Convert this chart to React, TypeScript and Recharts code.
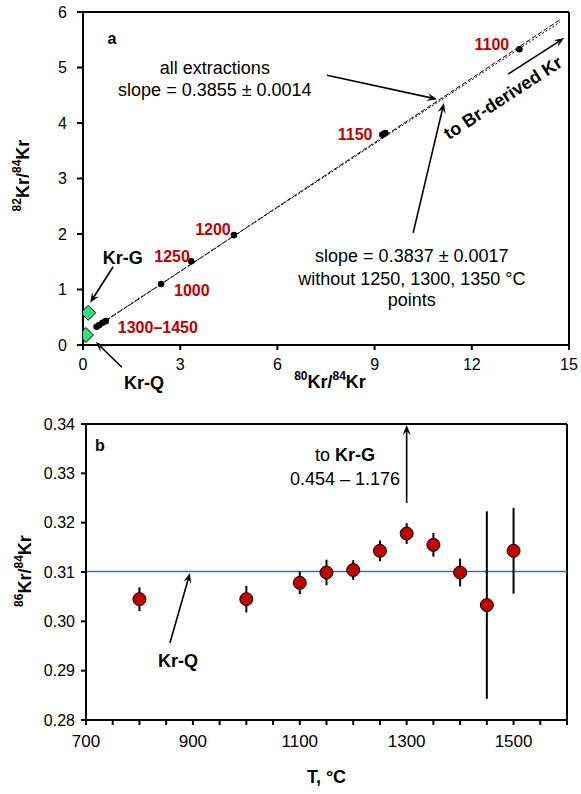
import React from 'react';
import {
  ScatterChart, Scatter, XAxis, YAxis, ReferenceLine, ReferenceDot, ErrorBar,
} from 'recharts';

// ---------- Panel a data ----------
const topXTicks = [0, 3, 6, 9, 12, 15];
const topYTicks = [0, 1, 2, 3, 4, 5, 6];
const stepPoints = [
  { x: 13.47, y: 5.33 }, // 1100
  { x: 9.24, y: 3.79 }, { x: 9.33, y: 3.82 }, // 1150
  { x: 4.66, y: 1.98 }, // 1200
  { x: 3.34, y: 1.51 }, // 1250
  { x: 2.41, y: 1.10 }, // 1000
  { x: 0.42, y: 0.33 }, { x: 0.5, y: 0.36 }, { x: 0.6, y: 0.4 }, { x: 0.7, y: 0.43 }, // 1300-1450
];
const krEndmembers = [
  { x: 0.16, y: 0.58 }, // Kr-G
  { x: 0.09, y: 0.18 }, // Kr-Q
];
const fitAll = [{ x: 0.35, y: 0.3 }, { x: 14.72, y: 5.86 }];
const fitSubset = [{ x: 0.35, y: 0.31 }, { x: 14.72, y: 5.82 }];
const stepLabels = [
  { t: '1100', x: 12.62, y: 5.41 },
  { t: '1150', x: 8.4, y: 3.8 },
  { t: '1200', x: 4.01, y: 2.09 },
  { t: '1250', x: 2.75, y: 1.59 },
  { t: '1000', x: 3.36, y: 0.99 },
  { t: '1300–1450', x: 2.31, y: 0.31 },
];
const topTexts = [
  { t: 'all extractions', x: 4.07, y: 4.99, bold: false },
  { t: 'slope = 0.3855 ± 0.0014', x: 4.07, y: 4.59, bold: false },
  { t: 'slope = 0.3837 ± 0.0017', x: 10.15, y: 1.6, bold: false },
  { t: 'without 1250, 1300, 1350 °C', x: 10.15, y: 1.19, bold: false },
  { t: 'points', x: 10.15, y: 0.81, bold: false },
  { t: 'Kr-G', x: 1.23, y: 1.57, bold: true },
  { t: 'Kr-Q', x: 1.88, y: -0.68, bold: true },
];
const topArrows = [
  { x1: 7.53, y1: 4.86, x2: 10.93, y2: 4.43 },
  { x1: 10.19, y1: 2.02, x2: 11.14, y2: 4.36 },
  { x1: 13.12, y1: 4.88, x2: 14.85, y2: 5.53 },
  { x1: 0.93, y1: 1.41, x2: 0.22, y2: 0.76 },
  { x1: 1.2, y1: -0.4, x2: 0.4, y2: 0.054 },
];

// ---------- Panel b data ----------
const temps = [800, 1000, 1100, 1150, 1200, 1250, 1300, 1350, 1400, 1450, 1500];
const ratio86 = [0.3045, 0.3045, 0.3078, 0.3099, 0.3104, 0.3143, 0.3178, 0.3155, 0.3099, 0.3033, 0.3143];
const err86 = [0.0024, 0.0027, 0.0023, 0.0026, 0.002, 0.0021, 0.0021, 0.0024, 0.0028, 0.019, 0.0087];
const krQ86 = 0.3101;
const botXTicks = [700, 750, 800, 850, 900, 950, 1000, 1050, 1100, 1150, 1200, 1250, 1300, 1350, 1400, 1450, 1500, 1550, 1600];
const botYTicks = [0.28, 0.29, 0.3, 0.31, 0.32, 0.33, 0.34];
const botArrows = [
  { x1: 1300, y1: 0.324, x2: 1300, y2: 0.3398 },
  { x1: 857, y1: 0.2956, x2: 894.6, y2: 0.3098 },
];

const bottomData = temps.map((t, i) => ({ x: t, y: ratio86[i], err: err86[i] }));

const FONT = '"Liberation Sans", Arial, sans-serif';
const RED = '#C00000';

const arrowShape = (p: any) => {
  const { x1, y1, x2, y2 } = p;
  const a = Math.atan2(y2 - y1, x2 - x1);
  const L = 11;
  const phi = 0.38;
  const lx = x2 - L * Math.cos(a - phi);
  const ly = y2 - L * Math.sin(a - phi);
  const rx = x2 - L * Math.cos(a + phi);
  const ry = y2 - L * Math.sin(a + phi);
  const nx = x2 - L * 0.55 * Math.cos(a);
  const ny = y2 - L * 0.55 * Math.sin(a);
  return (
    <g>
      <line x1={x1} y1={y1} x2={nx} y2={ny} stroke="#000" strokeWidth={1.6} />
      <polygon points={`${x2},${y2} ${lx},${ly} ${nx},${ny} ${rx},${ry}`} fill="#000" />
    </g>
  );
};

const textShape = (t: string, opts: { size: number; bold: boolean; fill: string; rotate?: number }) => (p: any) => {
  const { cx, cy } = p;
  return (
    <text
      x={cx}
      y={cy}
      textAnchor="middle"
      dominantBaseline="central"
      fontFamily={FONT}
      fontSize={opts.size}
      fontWeight={opts.bold ? 'bold' : 'normal'}
      fill={opts.fill}
      transform={opts.rotate ? `rotate(${opts.rotate} ${cx} ${cy})` : undefined}
    >
      {t}
    </text>
  );
};

const blackDot = (p: any) => <circle cx={p.cx} cy={p.cy} r={3.3} fill="#000" />;
const diamond = (p: any) => {
  const s = 7.5;
  return (
    <polygon
      points={`${p.cx},${p.cy - s} ${p.cx + s},${p.cy} ${p.cx},${p.cy + s} ${p.cx - s},${p.cy}`}
      fill="#33E07A"
      stroke="#000"
      strokeWidth={1}
    />
  );
};
const noDot = () => <g />;
const redDot = (p: any) => <circle cx={p.cx} cy={p.cy} r={6.5} fill={RED} stroke="#000" strokeWidth={1} />;

const supLabel = (sup1: string, sup2: string, cxOff: number, cyOff: number, rotate: boolean) => (props: any) => {
  const vb = props.viewBox || {};
  const cx = rotate ? vb.x + cxOff : vb.x + vb.width / 2 + cxOff;
  const cy = rotate ? vb.y + vb.height / 2 + cyOff : vb.y + cyOff;
  return (
    <text
      x={cx}
      y={cy}
      textAnchor="middle"
      dominantBaseline="central"
      fontFamily={FONT}
      fontSize={18}
      fontWeight="bold"
      fill="#000"
      transform={rotate ? `rotate(-90 ${cx} ${cy})` : undefined}
    >
      <tspan fontSize={12} dy={-6}>{sup1}</tspan>
      <tspan dy={6}>Kr/</tspan>
      <tspan fontSize={12} dy={-6}>{sup2}</tspan>
      <tspan dy={6}>Kr</tspan>
    </text>
  );
};

const tLabel = (props: any) => {
  const vb = props.viewBox || {};
  return (
    <text x={vb.x + vb.width / 2} y={vb.y + 57} textAnchor="middle" dominantBaseline="central"
      fontFamily={FONT} fontSize={18} fontWeight="bold" fill="#000">T, °C</text>
  );
};

const axisStroke = { stroke: '#000', strokeWidth: 2 };
const tickStyle = { fill: '#000', fontSize: 16, fontFamily: FONT };

export default function App() {
  return (
    <div style={{ position: 'absolute', left: 0, top: 0, width: 581, height: 794, background: '#fff', fontFamily: FONT }}>
      <div style={{ position: 'absolute', left: 0, top: 0 }}>
        <ScatterChart width={581} height={400} margin={{ top: 12, right: 12, bottom: 0, left: 0 }} style={{ fontFamily: FONT }}>
          <XAxis
            type="number" dataKey="x" domain={[0, 15]} ticks={topXTicks} allowDataOverflow
            height={55} tickSize={5} tickMargin={9} axisLine={axisStroke} tickLine={axisStroke} tick={tickStyle}
            label={supLabel('80', '84', 4, 37, false)}
          />
          <YAxis
            type="number" dataKey="y" domain={[0, 6]} ticks={topYTicks} allowDataOverflow
            width={83} tickSize={6} tickMargin={10} axisLine={axisStroke} tickLine={axisStroke} tick={tickStyle}
            label={supLabel('82', '84', 23, -3, true)}
          />
          <ReferenceLine y={6} stroke="#000" strokeWidth={2} ifOverflow="visible" />
          <ReferenceLine x={15} stroke="#000" strokeWidth={2} ifOverflow="visible" />
          <Scatter data={fitAll} line={{ stroke: '#000', strokeWidth: 1, strokeDasharray: '5 2' }} shape={noDot} isAnimationActive={false} legendType="none" />
          <Scatter data={fitSubset} line={{ stroke: '#000', strokeWidth: 1, strokeDasharray: '2 2' }} shape={noDot} isAnimationActive={false} legendType="none" />
          <Scatter data={stepPoints} shape={blackDot} isAnimationActive={false} />
          <Scatter data={krEndmembers} shape={diamond} isAnimationActive={false} />
          {topArrows.map((a, i) => (
            <ReferenceLine key={'ta' + i} segment={[{ x: a.x1, y: a.y1 }, { x: a.x2, y: a.y2 }]} ifOverflow="visible" shape={arrowShape} />
          ))}
          {stepLabels.map((l, i) => (
            <ReferenceDot key={'sl' + i} x={l.x} y={l.y} r={0} ifOverflow="visible" shape={textShape(l.t, { size: 16, bold: true, fill: RED })} />
          ))}
          {topTexts.map((l, i) => (
            <ReferenceDot key={'tt' + i} x={l.x} y={l.y} r={0} ifOverflow="visible" shape={textShape(l.t, { size: 18, bold: l.bold, fill: '#000' })} />
          ))}
          <ReferenceDot x={0.895} y={5.53} r={0} ifOverflow="visible" shape={textShape('a', { size: 16, bold: true, fill: '#000' })} />
          <ReferenceDot x={12.96} y={4.45} r={0} ifOverflow="visible" shape={textShape('to Br-derived Kr', { size: 18, bold: true, fill: '#000', rotate: -33 })} />
        </ScatterChart>
      </div>
      <div style={{ position: 'absolute', left: 0, top: 400 }}>
        <ScatterChart width={581} height={394} margin={{ top: 24, right: 14, bottom: 0, left: 0 }} style={{ fontFamily: FONT }}>
          <XAxis
            type="number" dataKey="x" domain={[700, 1600]} ticks={botXTicks} allowDataOverflow interval={0}
            tickFormatter={(v: number) => ((v - 700) % 200 === 0 ? String(v) : '')}
            height={74} tickSize={5} tickMargin={10} axisLine={axisStroke} tickLine={axisStroke} tick={{ ...tickStyle, fontSize: 17 }}
            label={tLabel}
          />
          <YAxis
            type="number" dataKey="y" domain={[0.28, 0.34]} ticks={botYTicks} allowDataOverflow interval={0}
            tickFormatter={(v: number) => v.toFixed(2)}
            width={86} tickSize={5} tickMargin={6} axisLine={axisStroke} tickLine={axisStroke} tick={tickStyle}
            label={supLabel('86', '84', 25, -1, true)}
          />
          <ReferenceLine y={0.34} stroke="#000" strokeWidth={2} ifOverflow="visible" />
          <ReferenceLine x={1600} stroke="#000" strokeWidth={2} ifOverflow="visible" />
          <ReferenceLine y={krQ86} stroke="#41719C" strokeWidth={1.6} />
          <Scatter data={bottomData} shape={noDot} isAnimationActive={false}>
            <ErrorBar dataKey="err" direction="y" width={0} stroke="#000" strokeWidth={2} />
          </Scatter>
          <Scatter data={bottomData} shape={redDot} isAnimationActive={false} />
          {botArrows.map((a, i) => (
            <ReferenceLine key={'ba' + i} segment={[{ x: a.x1, y: a.y1 }, { x: a.x2, y: a.y2 }]} ifOverflow="visible" shape={arrowShape} />
          ))}
          <ReferenceDot x={726} y={0.33574} r={0} ifOverflow="visible" shape={textShape('b', { size: 16, bold: true, fill: '#000' })} />
          <ReferenceDot x={1184.7} y={0.33372} r={0} ifOverflow="visible" shape={(p: any) => (
            <text x={p.cx} y={p.cy} textAnchor="middle" dominantBaseline="central" fontFamily={FONT} fontSize={18} fill="#000">
              to <tspan fontWeight="bold">Kr-G</tspan>
            </text>
          )} />
          <ReferenceDot x={1184.7} y={0.32885} r={0} ifOverflow="visible" shape={textShape('0.454 – 1.176', { size: 18, bold: false, fill: '#000' })} />
          <ReferenceDot x={872} y={0.29196} r={0} ifOverflow="visible" shape={textShape('Kr-Q', { size: 18, bold: true, fill: '#000' })} />
        </ScatterChart>
      </div>
    </div>
  );
}
